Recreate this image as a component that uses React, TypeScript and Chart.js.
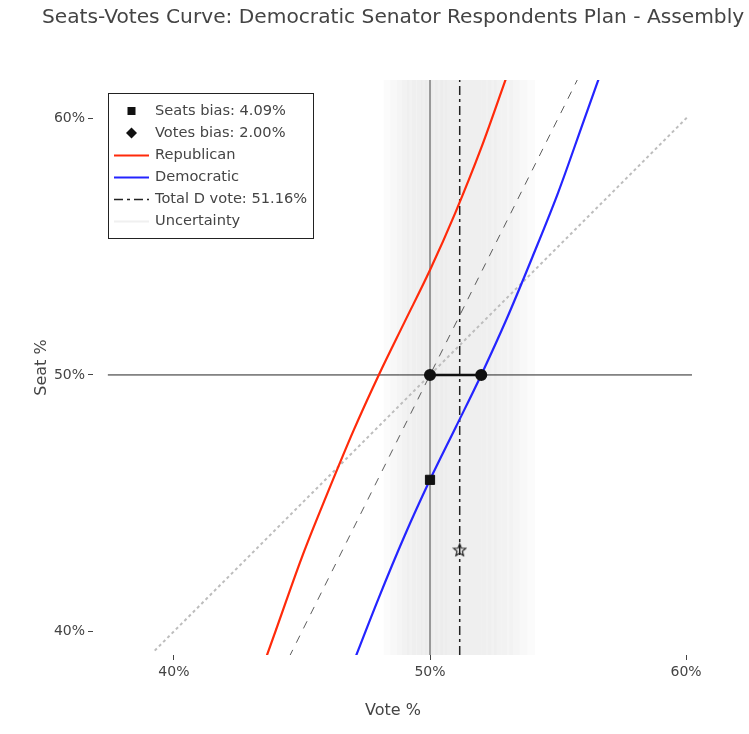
import React, { useEffect, useRef } from "react";
import { Chart, registerables } from "chart.js";

Chart.register(...registerables);

const TITLE = "Seats-Votes Curve: Democratic Senator Respondents Plan - Assembly";
const X_TITLE = "Vote %";
const Y_TITLE = "Seat %";
const TICK_VALUES = [40, 50, 60];
const X_RANGE = [36.84, 60.27];
const Y_RANGE = [39.08, 61.5];

const DEM_VOTES = [46.5, 47, 48, 49, 50, 51, 52, 53, 54, 55, 56, 57];
const DEM_SEATS = [37.45, 38.76, 41.31, 43.71, 45.91, 47.95, 50.0, 52.2, 54.6, 57.1, 59.9, 62.7];

const REP_VOTES = [43, 44, 45, 46, 47, 48, 49, 50, 51, 52, 53, 53.5];
const REP_SEATS = [37.3, 40.1, 42.9, 45.4, 47.8, 50.0, 52.05, 54.09, 56.35, 58.85, 61.65, 63.05];

const EQUAL_LINE_VOTES = [39.25, 60.1];
const EQUAL_LINE_SEATS = [39.25, 60.1];
const PROP_LINE_VOTES = [44.5, 55.8];
const PROP_LINE_SEATS = [39.0, 61.6];

const HLINE_VOTES = [37.42, 60.23];
const HLINE_SEAT = 50;
const VLINE_VOTE = 50;

const SEATS_BIAS = 4.09;
const VOTES_BIAS = 2.0;
const TOTAL_D_VOTE = 51.16;
const SEATS_BIAS_POINT = [50, 45.91];
const VOTES_BIAS_VOTES = [50, 52];
const CURRENT_SEAT = 43.18;

const UNCERTAINTY_VOTES = [
  48.7, 48.95, 49.2, 49.4, 49.6, 49.8, 50.0, 50.15, 50.3, 50.5, 50.7, 50.9, 51.1, 51.3, 51.5, 51.7, 51.9, 52.1,
  52.3, 52.5, 52.75, 53.0, 53.3, 53.6,
];

const FONT = '"DejaVu Sans", Verdana, sans-serif';
const TEXT = "#444";

function makeStar(): HTMLCanvasElement {
  const c = document.createElement("canvas");
  c.width = 15;
  c.height = 15;
  const g = c.getContext("2d")!;
  g.strokeStyle = "#111";
  g.lineWidth = 1.1;
  g.beginPath();
  const cx = 7.5,
    cy = 8,
    ro = 6.5,
    ri = 2.8;
  for (let i = 0; i < 10; i++) {
    const r = i % 2 === 0 ? ro : ri;
    const a = -Math.PI / 2 + (i * Math.PI) / 5;
    const px = cx + r * Math.cos(a);
    const py = cy + r * Math.sin(a);
    if (i === 0) g.moveTo(px, py);
    else g.lineTo(px, py);
  }
  g.closePath();
  g.stroke();
  return c;
}

const titlePlugin = {
  id: "customTitle",
  afterDraw(chart: any) {
    const ctx = chart.ctx;
    ctx.save();
    ctx.font = `20.2px ${FONT}`;
    ctx.fillStyle = TEXT;
    ctx.textBaseline = "middle";
    ctx.textAlign = "left";
    ctx.fillText(TITLE, 42, 18);
    ctx.restore();
  },
};

const LEGEND_ITEMS = [
  { label: `Seats bias: ${SEATS_BIAS.toFixed(2)}%`, kind: "square" },
  { label: `Votes bias: ${VOTES_BIAS.toFixed(2)}%`, kind: "diamond" },
  { label: "Republican", kind: "line", color: "#ff2a0a", width: 2, dash: [] as number[] },
  { label: "Democratic", kind: "line", color: "#2424ff", width: 2, dash: [] as number[] },
  { label: `Total D vote: ${TOTAL_D_VOTE.toFixed(2)}%`, kind: "line", color: "#222", width: 1.5, dash: [9, 4, 3, 4] },
  { label: "Uncertainty", kind: "line", color: "rgba(225,225,225,0.5)", width: 2, dash: [] as number[] },
];

const legendPlugin = {
  id: "customLegend",
  afterDraw(chart: any) {
    const ctx = chart.ctx;
    ctx.save();
    const bx = 108.5,
      by = 93.5,
      bw = 205,
      bh = 145;
    ctx.fillStyle = "#fff";
    ctx.fillRect(bx, by, bw, bh);
    ctx.strokeStyle = "#222";
    ctx.lineWidth = 1;
    ctx.strokeRect(bx, by, bw, bh);
    ctx.font = `14.6px ${FONT}`;
    ctx.textBaseline = "middle";
    ctx.textAlign = "left";
    LEGEND_ITEMS.forEach((it: any, i: number) => {
      const y = 111 + i * 22;
      if (it.kind === "square") {
        ctx.fillStyle = "#111";
        ctx.fillRect(127.5, y - 4, 8, 8);
      } else if (it.kind === "diamond") {
        ctx.fillStyle = "#111";
        ctx.beginPath();
        ctx.moveTo(131.5, y - 5.5);
        ctx.lineTo(137, y);
        ctx.lineTo(131.5, y + 5.5);
        ctx.lineTo(126, y);
        ctx.closePath();
        ctx.fill();
      } else {
        ctx.strokeStyle = it.color;
        ctx.lineWidth = it.width;
        ctx.setLineDash(it.dash);
        ctx.beginPath();
        ctx.moveTo(114, y + 0.5);
        ctx.lineTo(149, y + 0.5);
        ctx.stroke();
        ctx.setLineDash([]);
      }
      ctx.fillStyle = TEXT;
      ctx.fillText(it.label, 155, y + 0.5);
    });
    ctx.restore();
  },
};

const pts = (xs: number[], ys: number[]) => xs.map((x, i) => ({ x, y: ys[i] }));

export default function App() {
  const ref = useRef<HTMLCanvasElement>(null);

  useEffect(() => {
    if (!ref.current) return;
    const star = makeStar();
    const base = { pointRadius: 0, fill: false, showLine: true };

    const datasets: any[] = [
      {
        ...base,
        label: "Current",
        data: [{ x: TOTAL_D_VOTE, y: CURRENT_SEAT }],
        showLine: false,
        pointStyle: star,
        pointRadius: 7,
      },
      {
        ...base,
        label: "Seats bias",
        data: [{ x: SEATS_BIAS_POINT[0], y: SEATS_BIAS_POINT[1] }],
        showLine: false,
        pointStyle: "rect",
        pointRadius: 6.5,
        pointBackgroundColor: "#111",
        pointBorderColor: "#111",
      },
      {
        ...base,
        label: "Votes bias",
        data: pts(VOTES_BIAS_VOTES, [HLINE_SEAT, HLINE_SEAT]),
        borderColor: "#111",
        borderWidth: 2.5,
        pointStyle: "circle",
        pointRadius: 4.8,
        pointBackgroundColor: "#111",
        pointBorderColor: "#111",
      },
      {
        ...base,
        label: "Democratic",
        data: pts(DEM_VOTES, DEM_SEATS),
        borderColor: "#2424ff",
        borderWidth: 2.2,
        cubicInterpolationMode: "monotone",
      },
      {
        ...base,
        label: "Republican",
        data: pts(REP_VOTES, REP_SEATS),
        borderColor: "#ff2a0a",
        borderWidth: 2.2,
        cubicInterpolationMode: "monotone",
      },
      {
        ...base,
        label: "Total D vote",
        data: pts([TOTAL_D_VOTE, TOTAL_D_VOTE], Y_RANGE),
        borderColor: "#222",
        borderWidth: 1.5,
        borderDash: [9, 4, 3, 4],
      },
      {
        ...base,
        label: "Vertical 50",
        data: pts([VLINE_VOTE, VLINE_VOTE], Y_RANGE),
        borderColor: "#444",
        borderWidth: 1,
      },
      {
        ...base,
        label: "Horizontal 50",
        data: pts(HLINE_VOTES, [HLINE_SEAT, HLINE_SEAT]),
        borderColor: "#222",
        borderWidth: 1,
      },
      {
        ...base,
        label: "Proportional",
        data: pts(PROP_LINE_VOTES, PROP_LINE_SEATS),
        borderColor: "#333",
        borderWidth: 0.8,
        borderDash: [8, 8],
      },
      {
        ...base,
        label: "Equal",
        data: pts(EQUAL_LINE_VOTES, EQUAL_LINE_SEATS),
        borderColor: "#bdbdbd",
        borderWidth: 2,
        borderDash: [3, 3],
      },
      ...UNCERTAINTY_VOTES.map((v) => ({
        ...base,
        label: "Uncertainty",
        data: pts([v, v], [Y_RANGE[0] - 2, Y_RANGE[1] + 2]),
        borderColor: "rgba(0,0,0,0.015)",
        borderWidth: 26,
      })),
    ];

    const axisCommon = (title: string, isX: boolean) => ({
      type: "linear" as const,
      min: isX ? X_RANGE[0] : Y_RANGE[0],
      max: isX ? X_RANGE[1] : Y_RANGE[1],
      afterBuildTicks: (scale: any) => {
        scale.ticks = TICK_VALUES.map((value) => ({ value }));
      },
      afterFit: (scale: any) => {
        if (isX) scale.height = 79;
        else scale.width = 93;
      },
      ticks: {
        color: TEXT,
        font: { family: FONT, size: 14 },
        padding: isX ? 4 : 3,
        maxRotation: 0,
        autoSkip: false,
        callback: (v: any) => `${v}%`,
      },
      grid: {
        display: true,
        drawOnChartArea: false,
        drawTicks: true,
        tickLength: 5,
        color: TEXT,
        lineWidth: 1,
      },
      border: { display: false },
      title: {
        display: true,
        text: title,
        color: TEXT,
        font: { family: FONT, size: 16 },
        padding: isX ? { top: 0, bottom: 14 } : { top: 32, bottom: 0 },
      },
    });

    const chart = new Chart(ref.current, {
      type: "line",
      data: { datasets },
      options: {
        responsive: false,
        animation: false,
        parsing: true,
        layout: { padding: { left: 0, top: 80, right: 56, bottom: 0 } },
        plugins: {
          legend: { display: false },
          title: { display: false },
          tooltip: { enabled: false },
        },
        scales: {
          x: axisCommon(X_TITLE, true),
          y: axisCommon(Y_TITLE, false),
        },
      },
      plugins: [titlePlugin, legendPlugin],
    } as any);

    return () => chart.destroy();
  }, []);

  return (
    <div style={{ position: "absolute", left: 0, top: 0, width: 749, height: 734, background: "#fff" }}>
      <canvas ref={ref} width={749} height={734} style={{ display: "block" }} />
    </div>
  );
}
